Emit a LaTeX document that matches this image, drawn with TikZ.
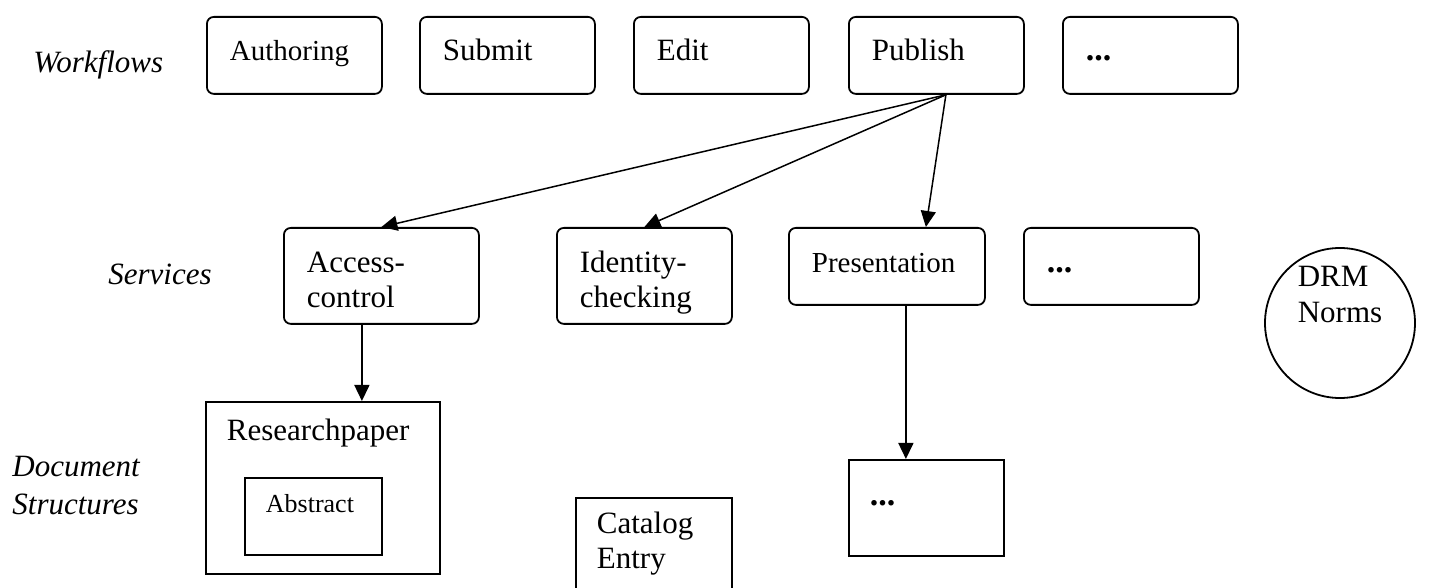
\documentclass[tikz,border=0pt]{standalone}
\usepackage{fontspec}
\setmainfont{Liberation Serif}
\usetikzlibrary{arrows.meta}

\tikzset{
    rbox/.style={draw, rounded corners=3.5pt, line width=0.9pt
        , anchor=north west, align=left, inner xsep=11.5pt, inner ysep=0pt
        , font=\fontsize{15.5}{17.5}\selectfont},
    wfbox/.style={rbox, text width=64.5pt, text height=22pt, text depth=16.5pt},
    svcbox/.style={rbox, text height=22.5pt},
    docbox/.style={draw, line width=0.9pt
        , anchor=north west, align=left, inner xsep=10.5pt, inner ysep=0pt
        , font=\fontsize{15.5}{17.5}\selectfont},
    layer/.style={anchor=base west, align=left, inner sep=0pt
        , font=\fontsize{15.5}{19}\selectfont\itshape},
    arr/.style={line width=0.75pt, -{Triangle[length=8pt,width=7.5pt]}}
}
\newcommand{\moredots}{{\fontsize{17}{17}\selectfont\textbf{...}}}

\begin{document}
\begin{tikzpicture}[x=0.5pt, y=-0.5pt]
    \useasboundingbox (0,0) rectangle (1437,588);
    \clip (0,0) rectangle (1437,588);

    % layer names
    \node[layer] (lwf) at (33,73) {Workflows};
    \node[layer] (lsvc) at (108,285) {Services};
    \node[layer] (ldoc) at (12,515) {Document\\Structures};

    % workflows
    \node[wfbox, font=\fontsize{14.5}{17.5}\selectfont] (auth) at (206,16) {Authoring};
    \node[wfbox] (sub) at (419,16) {Submit};
    \node[wfbox] (edit) at (633,16) {Edit};
    \node[wfbox] (pub) at (848,16) {Publish};
    \node[wfbox] (wdots) at (1062,16) {\moredots};

    % services
    \node[svcbox, text width=74.5pt, text depth=25.5pt] (acc) at (283,227) {Access-\\control};
    \node[svcbox, text width=64.5pt, text depth=25.5pt] (idc) at (556,227) {Identity-\\checking};
    \node[svcbox, text width=75pt, text depth=16pt
        , font=\fontsize{14.5}{17.5}\selectfont] (pres) at (788,227) {Presentation};
    \node[svcbox, text width=64.5pt, text depth=16pt] (sdots) at (1023,227) {\moredots};

    \node[draw, circle, line width=0.9pt, minimum size=75pt, inner sep=0pt
        , align=left, text height=28pt, text depth=28pt
        , font=\fontsize{15.5}{18}\selectfont] (drm) at (1340,323) {DRM\\Norms};

    % document structures
    \node[docbox, text width=96pt, text height=19.5pt, text depth=66.5pt] (rp) at (205,401) {Researchpaper};
    \node[docbox, text width=47.5pt, text height=17.5pt, text depth=21pt
        , font=\fontsize{13}{15}\selectfont] (abs) at (244,477) {Abstract};
    \node[docbox, text width=57pt, text height=18pt, text depth=32pt] (cat) at (575,497) {Catalog\\Entry};
    \node[docbox, text width=56.5pt, text height=23pt, text depth=25pt] (ddots) at (848,459) {\moredots};

    % connectors
    \draw[arr] ([xshift=4.75pt]pub.south) -- (acc.north);
    \draw[arr] ([xshift=4.75pt]pub.south) -- (idc.north);
    \draw[arr] ([xshift=4.75pt]pub.south) -- ([xshift=19.5pt]pres.north);
    \draw[arr] ([xshift=-9.75pt]acc.south) -- ([xshift=-9.75pt]acc.south |- rp.north);
    \draw[arr] ([xshift=9.5pt]pres.south) -- ([xshift=9.5pt]pres.south |- ddots.north);
\end{tikzpicture}
\end{document}
